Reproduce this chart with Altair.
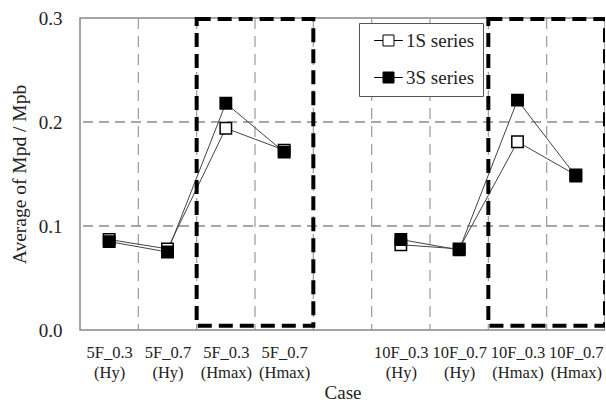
import json
import altair as alt
import pandas as pd

# Cases along the x axis; the empty slot separates the 5F and 10F groups
cases = ["5F_0.3 (Hy)", "5F_0.7 (Hy)", "5F_0.3 (Hmax)", "5F_0.7 (Hmax)", "",
         "10F_0.3 (Hy)", "10F_0.7 (Hy)", "10F_0.3 (Hmax)", "10F_0.7 (Hmax)"]
case_lines = [["5F_0.3", "(Hy)"], ["5F_0.7", "(Hy)"], ["5F_0.3", "(Hmax)"], ["5F_0.7", "(Hmax)"], [""],
              ["10F_0.3", "(Hy)"], ["10F_0.7", "(Hy)"], ["10F_0.3", "(Hmax)"], ["10F_0.7", "(Hmax)"]]
groups = ["5F", "5F", "5F", "5F", None, "10F", "10F", "10F", "10F"]

s1 = [0.087, 0.078, 0.194, 0.173, None, 0.082, 0.078, 0.181, 0.149]
s3 = [0.085, 0.075, 0.218, 0.171, None, 0.087, 0.077, 0.221, 0.148]
series_names = ["1S series", "3S series"]

y_ticks = [0.0, 0.1, 0.2, 0.3]
h_grid = [0.1, 0.2]
v_grid = [1, 2, 3, 4, 5, 6, 7, 8]

# Highlighted Hmax blocks (x range in case slots, y range in data units)
boxes = pd.DataFrame({"x0": [2, 7], "x1": [4, 9], "y0": [0.004, 0.004], "y1": [0.299, 0.299]})

rows = []
for i, (c, g) in enumerate(zip(cases, groups)):
    for name, vals in zip(series_names, [s1, s3]):
        if vals[i] is not None:
            rows.append({"case": c, "pos": i + 0.5, "group": g, "series": name, "value": vals[i]})
df = pd.DataFrame(rows)

FONT = "Liberation Serif"
W, H = 525, 312

xscale = alt.Scale(domain=[0, 9], nice=False, zero=False)
yscale = alt.Scale(domain=[0, 0.3], nice=False, zero=True)

label_expr = json.dumps(case_lines) + "[floor(datum.value)]"

x_axis = alt.Axis(values=[i + 0.5 for i in range(9)], labelExpr=label_expr, grid=False,
                  ticks=False, domain=False, labelFont=FONT, labelFontSize=16.5,
                  labelColor="#222", labelLineHeight=20, labelPadding=14,
                  title="Case", titleFont=FONT, titleFontSize=19, titleFontWeight="normal",
                  titleColor="#222", titlePadding=3)
y_axis = alt.Axis(values=y_ticks, format=".1f", grid=False, ticks=False, domain=False,
                  labelFont=FONT, labelFontSize=19, labelColor="#222", labelPadding=18,
                  title="Average of Mpd / Mpb", titleFont=FONT, titleFontSize=19.5,
                  titleFontWeight="normal", titleColor="#222", titlePadding=9)

X = lambda f: alt.X(f, scale=xscale, axis=x_axis)
Y = lambda f: alt.Y(f, scale=yscale, axis=y_axis)

frame_axes = alt.Chart(df).mark_point(opacity=0).encode(x=X("pos:Q"), y=Y("value:Q"))

hgrid = alt.Chart(pd.DataFrame({"y": h_grid})).mark_rule(
    color="#8a8a8a", strokeWidth=1.5, strokeDash=[10, 6]
).encode(y=Y("y:Q"))

vgrid = alt.Chart(pd.DataFrame({"x": v_grid})).mark_rule(
    color="#9a9a9a", strokeWidth=1.2, strokeDash=[11, 7]
).encode(x=X("x:Q"))

box_marks = alt.Chart(boxes).mark_rect(
    fill=None, fillOpacity=0, stroke="black", strokeWidth=4, strokeDash=[14, 7], clip=False
).encode(x=X("x0:Q"), x2="x1:Q", y=Y("y0:Q"), y2="y1:Q")

lines = alt.Chart(df).mark_line(color="#444", strokeWidth=1).encode(
    x=X("pos:Q"), y=Y("value:Q"), detail=["series:N", "group:N"],
)

legend_path = "M-2.6,0H-1M1,0H2.6M-1,-1H1V1H-1Z"

points = alt.Chart(df).mark_point(shape="square", size=130, filled=False, stroke="black",
                                  strokeWidth=1.5, fillOpacity=1, opacity=1).encode(
    x=X("pos:Q"), y=Y("value:Q"),
    fill=alt.Fill("series:N", scale=alt.Scale(domain=series_names, range=["white", "black"]),
                  legend=alt.Legend(title=None, orient="none", legendX=279, legendY=5,
                                    symbolType=legend_path, symbolSize=121,
                                    symbolStrokeColor="black", symbolStrokeWidth=1,
                                    labelFont=FONT, labelFontSize=19, labelColor="#222",
                                    labelOffset=8, rowPadding=17, padding=8,
                                    strokeColor="#555", fillColor="white",
                                    symbolOffset=12)),
    order=alt.Order("series:N"),
)

chart = alt.layer(frame_axes, hgrid, vgrid, lines, points, box_marks).properties(
    width=W, height=H,
    autosize=alt.AutoSizeParams(type="none"),
    padding={"left": 80, "top": 18, "right": 0, "bottom": 77},
    background="white",
).configure_view(stroke="#888", strokeWidth=1.5)

chart.save("out.html", embed_options={"renderer": "svg", "actions": False})
